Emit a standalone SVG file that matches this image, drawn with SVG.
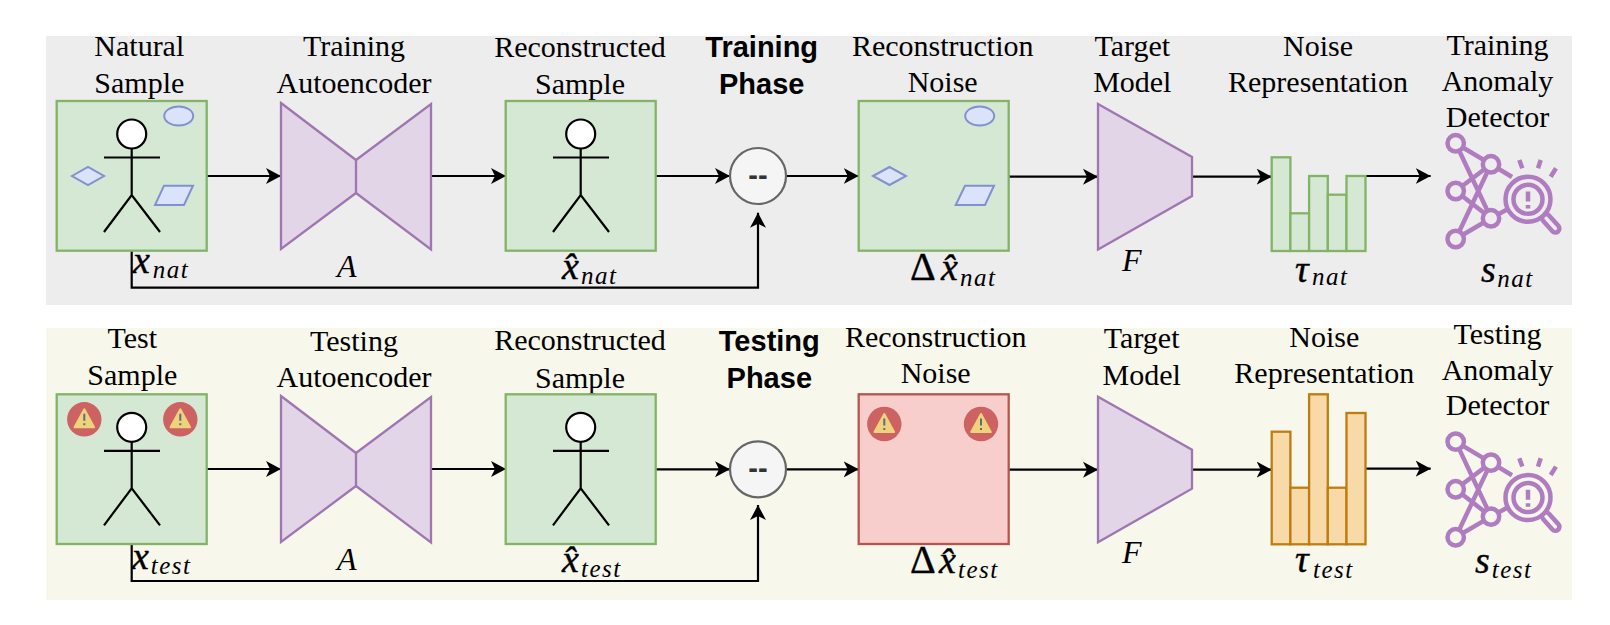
<svg xmlns="http://www.w3.org/2000/svg" width="1610" height="625" viewBox="0 0 1610 625">
<style>
text{fill:#000}
.t{font:30px "Liberation Serif",serif;text-anchor:middle}
.b{font:bold 29px "Liberation Sans",Arial,sans-serif;text-anchor:middle}
.m{font:italic 38px "Liberation Serif",serif;stroke:#000;stroke-width:.4}
.i{font:italic 32px "Liberation Serif",serif}
.s{font:italic 25px "Liberation Serif",serif;letter-spacing:1.5px}
.d{font:40px "Liberation Serif",serif;stroke:#000;stroke-width:.4}
.g{fill:#D5E8D4;stroke:#82B366;stroke-width:2.300}
.p{fill:#E1D5E7;stroke:#9F76B0;stroke-width:2.300}
.o{fill:#F8D9A8;stroke:#BD7D10;stroke-width:2.300}
.sh{fill:#DAE3FB;stroke:#8290D0;stroke-width:2}
.k{fill:none;stroke:#000;stroke-width:2.200}
.c{fill:none;stroke:#000;stroke-width:2.200;marker-end:url(#ah)}
.op{fill:#F5F5F5;stroke:#666;stroke-width:2.200}
.mn{font:bold 29px "Liberation Sans",Arial,sans-serif;text-anchor:middle;fill:#333}
</style>
<defs>
<marker id="ah" markerUnits="userSpaceOnUse" markerWidth="18" markerHeight="18" refX="15" refY="8.5" orient="auto">
<path d="M0 .5L15 8.500L0 16.500L4 8.500Z" fill="#000"/>
</marker>
<g id="person">
<circle cx="131.700" cy="134" r="14.500" fill="#fff" stroke="#000" stroke-width="2.200"/>
<path class="k" d="M131.700 148.500V195M104 157.500H160M104 232L131.700 195L160 232"/>
</g>
<g id="ell"><ellipse cx="0" cy="0" rx="14.500" ry="9.500" class="sh"/></g>
<g id="bow"><path class="p" d="M281 103L356 160L431 104V249.500L356 193L281 249Z"/><path class="p" d="M356 160V193"/></g>
<path id="trap" class="p" d="M1098 104L1192 157V196L1098 249.500Z"/>
<g id="warn">
<circle r="17.200" fill="#CC6262"/>
<path d="M0-10L9.800 8H-9.800Z" fill="#EFD27A" stroke="#EFD27A" stroke-width="2" stroke-linejoin="round"/>
<path d="M0-5.500V1.500M0 4V6" stroke="#5B6B8C" stroke-width="2" fill="none"/>
</g>
<g id="icon" style="stroke:#B07CC0;stroke-width:4.500">
<path fill="none" d="M1455.700 143.300L1491 164.300M1455.700 143.300L1491 218.300M1491 164.300L1455.700 191M1491 164.300L1455.700 239M1455.700 191L1491 218.300M1455.700 239L1491 218.300M1491 164.300L1512 177M1491 218.300L1508 209"/>
<circle cx="1455.700" cy="143.300" r="8.200"/><circle cx="1491" cy="164.300" r="8.200"/><circle cx="1455.700" cy="191" r="8.200"/><circle cx="1491" cy="218.300" r="8.200"/><circle cx="1455.700" cy="239" r="8.200"/>
<rect x="-11" y="-4" width="22" height="8" rx="4" transform="translate(1550.700 223.300) rotate(48)"/>
<circle cx="1528" cy="199.300" r="22.500"/><circle cx="1528" cy="199.300" r="14.500"/>
<path fill="none" d="M1528 191.500V201.500M1528 205V208.500M1519.300 160L1522.300 168.300M1540.700 160L1538 168.300M1556 168.300L1550.700 176.700"/>
</g>
</defs>

<g id="panels">
<rect id="train-panel" x="46" y="36" width="1526" height="269" fill="#EDEDED"/>
<rect id="test-panel" x="46" y="328" width="1526" height="272" fill="#F7F7EC"/>
</g>

<g id="connectors">
<path class="c" d="M207 176H281"/><path class="c" d="M431 176H506"/><path class="c" d="M656 176H730"/><path class="c" d="M786 176H858.700"/><path class="c" d="M1009 176.700H1098"/><path class="c" d="M1192 176.700H1271.700"/><path class="c" d="M1366 176H1430.700"/>
<path class="c" d="M131.700 251V287.700H758V212.700"/>
<path class="c" d="M207 469H281"/><path class="c" d="M431 469H506"/><path class="c" d="M656 469.300H730"/><path class="c" d="M786 469.300H858.700"/><path class="c" d="M1009 469.700H1098"/><path class="c" d="M1192 469.700H1271.700"/><path class="c" d="M1366 468.700H1430.700"/>
<path class="c" d="M131.700 544.500V581H758V505"/>
</g>

<g id="natural-sample">
<text class="t" x="139.300" y="56">Natural</text><text class="t" x="139.300" y="92.500">Sample</text>
<rect class="g" x="56.700" y="101" width="150" height="149.700"/>
<use href="#person"/>
<use href="#ell" x="178.700" y="116"/>
<path class="sh" d="M72 176L88 167L104 176L88 185Z"/>
<path class="sh" d="M164 185.700H193L184 205H155Z"/>
<text class="m" x="133" y="273">x</text><text class="s" x="152.700" y="278">nat</text>
</g>
<g id="training-autoencoder">
<text class="t" x="354" y="56">Training</text><text class="t" x="354" y="92.500">Autoencoder</text>
<use href="#bow"/>
<text class="i" x="346.700" y="276.700" text-anchor="middle">A</text>
</g>
<g id="reconstructed-sample">
<text class="t" x="580" y="56.700">Reconstructed</text><text class="t" x="580" y="94.300">Sample</text>
<rect class="g" x="505.700" y="101" width="150" height="149.700"/>
<use href="#person" x="449"/>
<text class="m" x="562" y="279">x&#770;</text><text class="s" x="581" y="284">nat</text>
</g>
<g id="training-phase">
<text class="b" x="761.700" y="57.300">Training</text><text class="b" x="761.700" y="94.300">Phase</text>
</g>
<g id="subtract-train">
<circle class="op" cx="758" cy="176" r="28"/><text class="mn" x="758" y="185">--</text>
</g>
<g id="reconstruction-noise">
<text class="t" x="942.700" y="56">Reconstruction</text><text class="t" x="942.700" y="92.300">Noise</text>
<rect class="g" x="858.700" y="101" width="150" height="149.700"/>
<use href="#ell" x="979.700" y="116"/>
<path class="sh" d="M873 176L889.500 167L906 176L889.500 185Z"/>
<path class="sh" d="M965 185.700H994L985 205H955.700Z"/>
<text class="d" x="910" y="280">Δ</text><text class="m" x="941" y="280">x&#770;</text><text class="s" x="960" y="286">nat</text>
</g>
<g id="target-model">
<text class="t" x="1132.300" y="56">Target</text><text class="t" x="1132.300" y="92.300">Model</text>
<use href="#trap"/>
<text class="i" x="1131.700" y="270.700" text-anchor="middle">F</text>
</g>
<g id="noise-representation">
<text class="t" x="1318" y="56">Noise</text><text class="t" x="1318" y="92.300">Representation</text>
<rect class="g" x="1271.700" y="157.300" width="18.700" height="93.700"/><rect class="g" x="1290.400" y="213.300" width="18.700" height="37.700"/><rect class="g" x="1309.100" y="176" width="18.700" height="75"/><rect class="g" x="1327.800" y="194.700" width="18.700" height="56.300"/><rect class="g" x="1346.500" y="176" width="19" height="75"/>
<text class="m" x="1295" y="281.700">τ</text><text class="s" x="1312" y="285">nat</text>
</g>
<g id="training-detector">
<text class="t" x="1497.500" y="55">Training</text><text class="t" x="1497.500" y="90.700">Anomaly</text><text class="t" x="1497.500" y="126.700">Detector</text>
<use href="#icon" fill="#EDEDED"/>
<text class="m" x="1481" y="281.700">s</text><text class="s" x="1497.300" y="287.300">nat</text>
</g>

<g id="test-sample">
<text class="t" x="132.300" y="348.300">Test</text><text class="t" x="132.300" y="385">Sample</text>
<rect class="g" x="56.700" y="394.300" width="150" height="149.700"/>
<use href="#person" y="293.300"/>
<use href="#warn" x="84.300" y="419.300"/><use href="#warn" x="180.300" y="419.300"/>
<text class="m" x="132" y="569">x</text><text class="s" x="150.700" y="574">test</text>
</g>
<g id="testing-autoencoder">
<text class="t" x="354" y="350.700">Testing</text><text class="t" x="354" y="387.300">Autoencoder</text>
<use href="#bow" y="293"/>
<text class="i" x="346.700" y="570" text-anchor="middle">A</text>
</g>
<g id="reconstructed-test">
<text class="t" x="580" y="350">Reconstructed</text><text class="t" x="580" y="387.600">Sample</text>
<rect class="g" x="505.700" y="394.300" width="150" height="149.700"/>
<use href="#person" x="449" y="293.300"/>
<text class="m" x="562" y="572">x&#770;</text><text class="s" x="581" y="577">test</text>
</g>
<g id="testing-phase">
<text class="b" x="769.300" y="350.700">Testing</text><text class="b" x="769.300" y="387.700">Phase</text>
</g>
<g id="subtract-test">
<circle class="op" cx="758" cy="469.300" r="28"/><text class="mn" x="758" y="478">--</text>
</g>
<g id="noise-test">
<text class="t" x="935.700" y="346.700">Reconstruction</text><text class="t" x="935.700" y="383.300">Noise</text>
<rect x="858.700" y="394.300" width="150" height="149.700" fill="#F8CECC" stroke="#B85450" stroke-width="2.300"/>
<use href="#warn" x="884.300" y="424"/><use href="#warn" x="981" y="424"/>
<text class="d" x="910" y="573.300">Δ</text><text class="m" x="939" y="573.300">x&#770;</text><text class="s" x="958" y="578">test</text>
</g>
<g id="target-model-test">
<text class="t" x="1141.700" y="348.300">Target</text><text class="t" x="1141.700" y="385">Model</text>
<use href="#trap" y="292.700"/>
<text class="i" x="1131.700" y="563.300" text-anchor="middle">F</text>
</g>
<g id="noise-representation-test">
<text class="t" x="1324.300" y="346.700">Noise</text><text class="t" x="1324.300" y="383.300">Representation</text>
<rect class="o" x="1271.700" y="431.700" width="18.700" height="112.600"/><rect class="o" x="1290.400" y="487.700" width="18.700" height="56.600"/><rect class="o" x="1309.100" y="394.300" width="18.700" height="150"/><rect class="o" x="1327.800" y="487.700" width="18.700" height="56.600"/><rect class="o" x="1346.500" y="413" width="19" height="131.300"/>
<text class="m" x="1295" y="571.700">τ</text><text class="s" x="1313" y="577.700">test</text>
</g>
<g id="testing-detector">
<text class="t" x="1497.500" y="344.300">Testing</text><text class="t" x="1497.500" y="380">Anomaly</text><text class="t" x="1497.500" y="415">Detector</text>
<use href="#icon" y="298.300" fill="#F7F7EC"/>
<text class="m" x="1475" y="572.700">s</text><text class="s" x="1491.700" y="578.300">test</text>
</g>
</svg>
